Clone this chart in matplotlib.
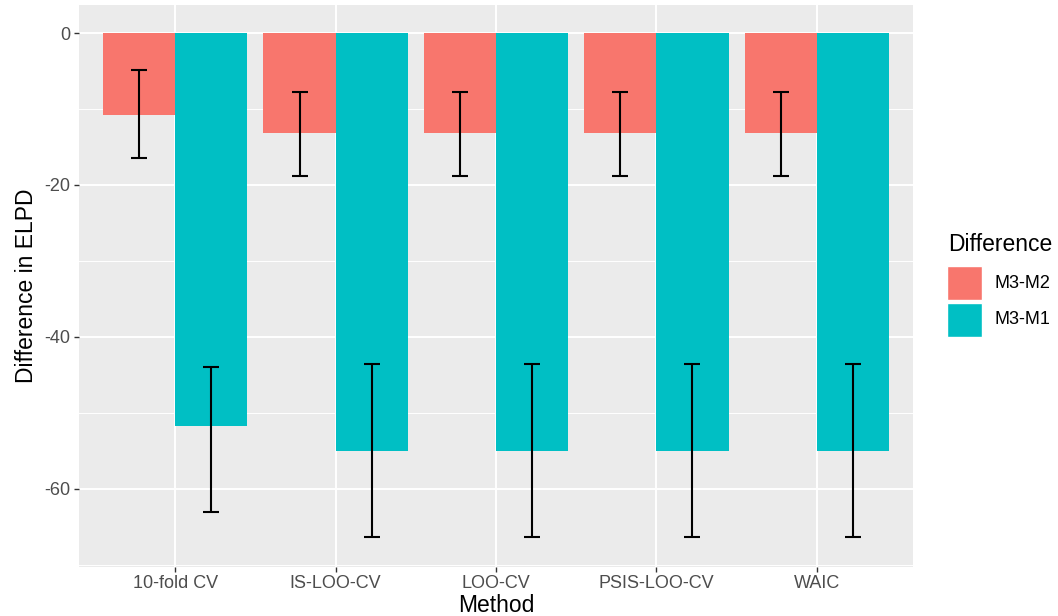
import matplotlib
matplotlib.use("Agg")
import matplotlib.pyplot as plt
import matplotlib.patches as mpatches
from matplotlib.ticker import MultipleLocator
import numpy as np

plt.rcParams["font.family"] = ["Liberation Sans", "DejaVu Sans"]
plt.rcParams["axes.unicode_minus"] = False

# data
methods = ["10-fold CV", "IS-LOO-CV", "LOO-CV", "PSIS-LOO-CV", "WAIC"]
groups = ["M3-M2", "M3-M1"]
m3_m2 = [-10.8, -13.2, -13.2, -13.2, -13.2]
m3_m2_lo = [-16.4, -18.8, -18.8, -18.8, -18.8]
m3_m2_hi = [-4.9, -7.8, -7.8, -7.8, -7.8]
m3_m1 = [-51.7, -55.0, -55.0, -55.0, -55.0]
m3_m1_lo = [-63.0, -66.3, -66.3, -66.3, -66.3]
m3_m1_hi = [-44.0, -43.6, -43.6, -43.6, -43.6]
colors = ["#F8766D", "#00BFC4"]

W, H = 1058, 616
fig = plt.figure(figsize=(W / 100, H / 100), dpi=100)
ax = fig.add_axes([79 / W, 49 / H, 834 / W, 562 / H])
ax.set_facecolor("#EBEBEB")

x = np.arange(1, len(methods) + 1)
w = 0.45
series = [(m3_m2, m3_m2_lo, m3_m2_hi), (m3_m1, m3_m1_lo, m3_m1_hi)]
for i, (vals, lo, hi) in enumerate(series):
    pos = x + (i - 0.5) * w
    ax.bar(pos, vals, width=w, color=colors[i], zorder=2)
    ax.vlines(pos, lo, hi, color="black", lw=1.5, zorder=3)
    ax.hlines(lo, pos - 0.05, pos + 0.05, color="black", lw=1.5, zorder=3)
    ax.hlines(hi, pos - 0.05, pos + 0.05, color="black", lw=1.5, zorder=3)

ax.set_xlim(0.4, 5.6)
ax.set_ylim(-70.3, 3.7)
ax.set_xticks(x)
ax.set_xticklabels(methods)
ax.yaxis.set_major_locator(MultipleLocator(20))
ax.yaxis.set_minor_locator(MultipleLocator(10))
ax.grid(which="major", color="white", lw=1.4, zorder=0)
ax.grid(which="minor", axis="y", color="white", lw=0.7, zorder=0)
ax.set_axisbelow(True)
for s in ax.spines.values():
    s.set_visible(False)
ax.tick_params(which="major", length=3.5, width=1, color="#333333",
               labelcolor="#4D4D4D", labelsize=13, pad=2.5)
ax.tick_params(which="minor", length=0)

ax.set_xlabel("Method", fontsize=16.5, labelpad=1)
ax.set_ylabel("Difference in ELPD", fontsize=16.5, labelpad=5)

# legend drawn by hand to match ggplot's key boxes
fig.text(948 / W, 1 - 251 / H, "Difference", fontsize=16.5, ha="left",
         va="baseline")
key_tops = [266, 303]
for c, lab, top in zip(colors, groups, key_tops):
    fig.add_artist(mpatches.Rectangle((947 / W, 1 - (top + 34) / H), 35 / W,
                                      34 / H, facecolor=c, edgecolor="white",
                                      lw=1, transform=fig.transFigure))
    fig.text(995 / W, 1 - (top + 17) / H, lab, fontsize=13, ha="left",
             va="center")

fig.savefig("out.png", dpi=100)
